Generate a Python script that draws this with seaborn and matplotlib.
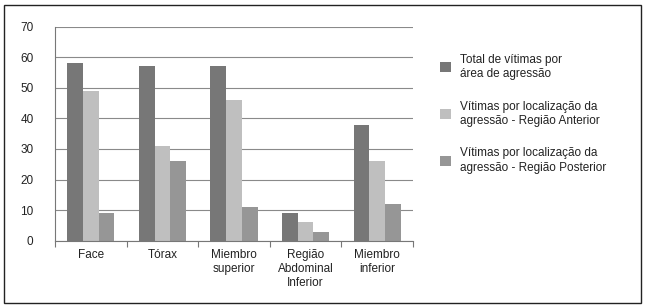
import matplotlib
matplotlib.use("Agg")
import matplotlib.pyplot as plt
import seaborn as sns
import pandas as pd
from matplotlib.patches import Rectangle, Patch

categories = ["Face", "Tórax", "Miembro\nsuperior", "Região\nAbdominal\nInferior", "Miembro\ninferior"]
series_names = ["Total de vítimas por\nárea de agressão",
                "Vítimas por localização da\nagressão - Região Anterior",
                "Vítimas por localização da\nagressão - Região Posterior"]
total = [58, 57, 57, 9, 38]
anterior = [49, 31, 46, 6, 26]
posterior = [9, 26, 11, 3, 12]
colors = ["#777777", "#bfbfbf", "#969696"]

rows = []
for name, vals in zip(series_names, [total, anterior, posterior]):
    for c, v in zip(categories, vals):
        rows.append({"cat": c, "serie": name, "val": v})
df = pd.DataFrame(rows)

sns.set_theme(style="white")
plt.rcParams['font.family'] = ['Liberation Sans', 'DejaVu Sans']

fig = plt.figure(figsize=(6.48, 3.07), dpi=100)
W, H = 648, 307
ax = fig.add_axes([55 / W, (H - 240.7) / H, (413 - 55) / W, (240.7 - 26.7) / H])

sns.barplot(data=df, x="cat", y="val", hue="serie", palette=colors, width=0.66,
            ax=ax, legend=False, saturation=1, gap=0, linewidth=0)

FS = 8.5
ax.set_ylim(0, 70)
ax.set_xlim(-0.5, 4.5)
ax.set_yticks(range(0, 71, 10))
ax.yaxis.grid(True, color="#8a8a8a", linewidth=0.8)
ax.set_axisbelow(True)
ax.set_xlabel("")
ax.set_ylabel("")
for s in ["top", "right"]:
    ax.spines[s].set_visible(False)
ax.spines["left"].set_color("#777777")
ax.spines["bottom"].set_color("#777777")
ax.spines["left"].set_linewidth(0.8)
ax.spines["bottom"].set_linewidth(0.8)
ax.tick_params(axis="y", length=3.5, width=0.8, color="#8a8a8a", labelsize=FS, pad=12, labelcolor="#222222")
ax.tick_params(axis="x", which="major", length=0, labelsize=FS, pad=6, labelcolor="#222222")
ax.set_xticks([-0.5, 0.5, 1.5, 2.5, 3.5, 4.5], minor=True)
ax.tick_params(axis="x", which="minor", length=4, width=0.8, color="#777777", bottom=True)
for lbl in ax.get_xticklabels():
    lbl.set_linespacing(1.2)

handles = [Patch(facecolor=c, edgecolor="none") for c in colors]
leg = fig.legend(handles, series_names, loc="upper left", bbox_to_anchor=(429 / W, 1 - 43 / H),
                 frameon=False, fontsize=FS, handlelength=1.0, handleheight=1.0,
                 handletextpad=0.75, labelspacing=1.75, labelcolor="#222222")
for t in leg.get_texts():
    t.set_linespacing(1.25)

fig.patches.append(Rectangle((3.5 / W, 4.5 / H), (640.5 - 3.5) / W, (302 - 4.5) / H,
                             transform=fig.transFigure, fill=False, edgecolor="#222222",
                             linewidth=1.0))

fig.savefig("out.png", dpi=100)
